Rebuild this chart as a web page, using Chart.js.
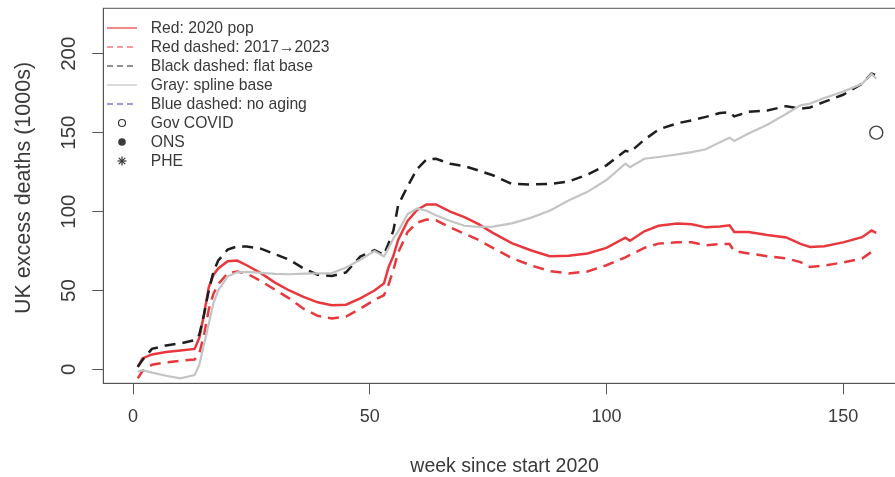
<!DOCTYPE html>
<html>
<head>
<meta charset="utf-8">
<script src="https://cdn.jsdelivr.net/npm/chart.js@4/dist/chart.umd.min.js"></script>
<style>
  html, body { margin: 0; padding: 0; background: #fff; overflow: hidden; }
  canvas { display: block; }
</style>
</head>
<body>
<canvas id="excessChart" width="920" height="477"></canvas>
<script>
// weeks since start of 2020
const weeks = [1, 2, 4, 7, 10, 13, 14, 15, 16, 17, 18, 20, 22, 24, 27, 30, 33, 36, 39, 42,
  45, 48, 51, 53, 54, 55, 56, 58, 60, 62, 64, 67, 70, 73, 76, 80, 84, 88, 92, 96,
  100, 104, 105, 108, 111, 115, 118, 121, 124, 126, 127, 130, 134, 138, 141, 143, 146, 150, 154, 156, 157];

// cumulative excess deaths (1000s)
const red2020 = [1.6, 7, 9.5, 11, 12, 13, 20, 35, 52, 60, 64, 68.5, 69, 66, 61, 55, 50, 46, 42.5, 40.7,
  41, 45, 50, 54.4, 65, 72, 82, 94, 101, 104.5, 104.5, 100, 96.5, 92, 86.5, 80, 75.5, 71.7, 72, 73.5,
  77, 83.5, 81.5, 87.5, 91, 92.4, 92, 90, 90.5, 91.3, 87.1, 87.1, 85.2, 83.6, 79.5, 77.6, 78, 80.5, 83.8, 88, 86.5];

const redDashed = [-5.7, -1, 3, 4.5, 5.5, 6.3, 10, 22, 38, 48, 54, 61, 62, 60.8, 56, 50.5, 45, 38.5, 34, 32.3,
  33.5, 38.5, 44, 47, 54, 63, 74, 87, 93, 95, 94.5, 90, 86, 82, 77, 70.5, 66, 62.3, 60.8, 62,
  66, 71, 72.5, 77, 79.7, 80.5, 80.5, 78.7, 79.5, 79.5, 75, 73.5, 71.7, 70.3, 68, 64.9, 65.8, 67.8, 70.3, 74.4, 72.3];

const blackFlat = [1.6, 6, 13, 15.2, 16.5, 18.5, 22, 35, 50, 62, 69, 76, 78, 77.8, 76.5, 73, 69.5, 64, 60, 59.2,
  61.5, 71.5, 75.5, 72.5, 80, 88, 104, 116, 127, 133, 133.5, 130.3, 128.8, 126, 123, 117.5, 117.2, 117.5, 119, 123.5,
  129.3, 138.5, 137.7, 145.5, 152, 156, 157.8, 160, 162.5, 163, 160.3, 163.2, 164.1, 166.8, 165.2, 166, 169.5, 174, 181, 187.5, 186.3];

const graySpline = [-1.5, -0.5, -2, -4, -5.7, -3.6, 3, 16, 29, 42, 50, 59, 61.5, 61.8, 61.2, 60.5, 60.3, 60.7, 60.8, 61,
  64.5, 69.5, 75, 71.5, 77, 83, 87.5, 98.5, 102, 100.5, 97.7, 94, 91, 90.3, 90.5, 92.5, 96, 100.5, 107, 112.5,
  120, 130.4, 128.2, 133.5, 134.6, 136.3, 137.7, 139.5, 144, 146.8, 144.7, 149.5, 155, 162, 167.3, 168.4, 172, 176, 181, 187.3, 184.2];

const govWeek = [157];
const govCovid = [150];

const xTicks = [0, 50, 100, 150];
const yTicks = [0, 50, 100, 150, 200];

const legendItems = [
  { label: 'Red: 2020 pop', type: 'line', color: '#e8383d', dash: [] },
  { label: 'Red dashed: 2017\u21922023', type: 'line', color: '#e8383d', dash: [6, 4] },
  { label: 'Black dashed: flat base', type: 'line', color: '#222', dash: [6, 4] },
  { label: 'Gray: spline base', type: 'line', color: '#c4c4c4', dash: [] },
  { label: 'Blue dashed: no aging', type: 'line', color: '#3a3ab0', dash: [6, 4] },
  { label: 'Gov COVID', type: 'open' },
  { label: 'ONS', type: 'filled' },
  { label: 'PHE', type: 'star' }
];

const FONT = '"Liberation Sans", Arial, sans-serif';
const TEXT = '#3a3a3a';

function toPoints(xs, ys) {
  return xs.map((x, i) => ({ x: x, y: ys[i] }));
}

function lineSet(label, values, color, width, dash) {
  return {
    label: label,
    data: toPoints(weeks, values),
    borderColor: color,
    borderWidth: width,
    borderDash: dash,
    pointRadius: 0,
    tension: 0,
    fill: false
  };
}

// R style box, tick labels, axis titles and legend
const rDecor = {
  id: 'rDecor',
  afterDraw(chart) {
    const ctx = chart.ctx;
    const a = chart.chartArea;
    const xs = chart.scales.x;
    const ys = chart.scales.y;
    ctx.save();

    ctx.strokeStyle = '#555';
    ctx.lineWidth = 1;
    ctx.strokeRect(a.left, a.top, a.right - a.left, a.bottom - a.top);

    ctx.fillStyle = TEXT;
    ctx.textAlign = 'center';
    ctx.textBaseline = 'middle';

    ctx.font = '18px ' + FONT;
    xTicks.forEach(v => ctx.fillText(String(v), xs.getPixelForValue(v), 417));

    yTicks.forEach(v => {
      ctx.save();
      ctx.translate(69, ys.getPixelForValue(v));
      ctx.rotate(-Math.PI / 2);
      ctx.font = '20.5px ' + FONT;
      ctx.fillText(String(v), 0, 0);
      ctx.restore();
    });

    ctx.font = '19.5px ' + FONT;
    ctx.fillText('week since start 2020', (a.left + a.right) / 2, 467);

    ctx.save();
    ctx.translate(24, 188);
    ctx.rotate(-Math.PI / 2);
    ctx.font = '21.5px ' + FONT;
    ctx.fillText('UK excess deaths (1000s)', 0, 0);
    ctx.restore();

    // legend
    ctx.font = '15.7px ' + FONT;
    ctx.textAlign = 'left';
    legendItems.forEach((item, i) => {
      const y = 28 + 19 * i;
      if (item.type === 'line') {
        ctx.save();
        ctx.strokeStyle = item.color;
        ctx.lineWidth = 1.2;
        ctx.setLineDash(item.dash);
        ctx.beginPath();
        ctx.moveTo(107, y);
        ctx.lineTo(137, y);
        ctx.stroke();
        ctx.restore();
      } else if (item.type === 'open') {
        ctx.save();
        ctx.strokeStyle = '#333';
        ctx.lineWidth = 1.2;
        ctx.beginPath();
        ctx.arc(122, y, 3.5, 0, Math.PI * 2);
        ctx.stroke();
        ctx.restore();
      } else if (item.type === 'filled') {
        ctx.beginPath();
        ctx.arc(122, y, 3.8, 0, Math.PI * 2);
        ctx.fill();
      } else {
        ctx.save();
        ctx.strokeStyle = '#333';
        ctx.lineWidth = 1.2;
        for (let k = 0; k < 4; k++) {
          const ang = k * Math.PI / 4;
          ctx.beginPath();
          ctx.moveTo(122 - 4.5 * Math.cos(ang), y - 4.5 * Math.sin(ang));
          ctx.lineTo(122 + 4.5 * Math.cos(ang), y + 4.5 * Math.sin(ang));
          ctx.stroke();
        }
        ctx.restore();
      }
      ctx.fillStyle = TEXT;
      ctx.fillText(item.label, 150.7, y + 1);
    });

    ctx.restore();
  }
};

const ctx = document.getElementById('excessChart').getContext('2d');
new Chart(ctx, {
  type: 'line',
  data: {
    datasets: [
      lineSet('Gray: spline base', graySpline, '#c4c4c4', 2.2, []),
      lineSet('Black dashed: flat base', blackFlat, '#1e1e1e', 2.5, [11, 7]),
      lineSet('Red dashed: 2017\u21922023', redDashed, '#e8383d', 2.5, [11, 7]),
      lineSet('Red: 2020 pop', red2020, '#e8383d', 2.5, []),
      {
        label: 'Gov COVID',
        type: 'scatter',
        data: toPoints(govWeek, govCovid),
        pointRadius: 6.5,
        pointBackgroundColor: 'rgba(0,0,0,0)',
        pointBorderColor: '#444',
        pointBorderWidth: 1.4,
        showLine: false
      }
    ]
  },
  options: {
    responsive: false,
    animation: false,
    devicePixelRatio: 1,
    layout: { padding: { left: 0, top: 8.3, right: 14, bottom: 0 } },
    plugins: {
      legend: { display: false },
      tooltip: { enabled: false }
    },
    scales: {
      x: {
        type: 'linear',
        min: -6.28,
        max: 163.28,
        afterBuildTicks: s => { s.ticks = xTicks.map(v => ({ value: v })); },
        afterFit: s => { s.height = 93.7; },
        ticks: { display: false },
        grid: { drawOnChartArea: false, drawTicks: true, tickLength: 11, color: '#555', lineWidth: 1 },
        border: { display: true, color: '#555' }
      },
      y: {
        type: 'linear',
        min: -8.8,
        max: 228.8,
        afterBuildTicks: s => { s.ticks = yTicks.map(v => ({ value: v })); },
        afterFit: s => { s.width = 103.3; },
        ticks: { display: false },
        grid: { drawOnChartArea: false, drawTicks: true, tickLength: 11, color: '#555', lineWidth: 1 },
        border: { display: true, color: '#555' }
      }
    }
  },
  plugins: [rDecor]
});
</script>
</body>
</html>
